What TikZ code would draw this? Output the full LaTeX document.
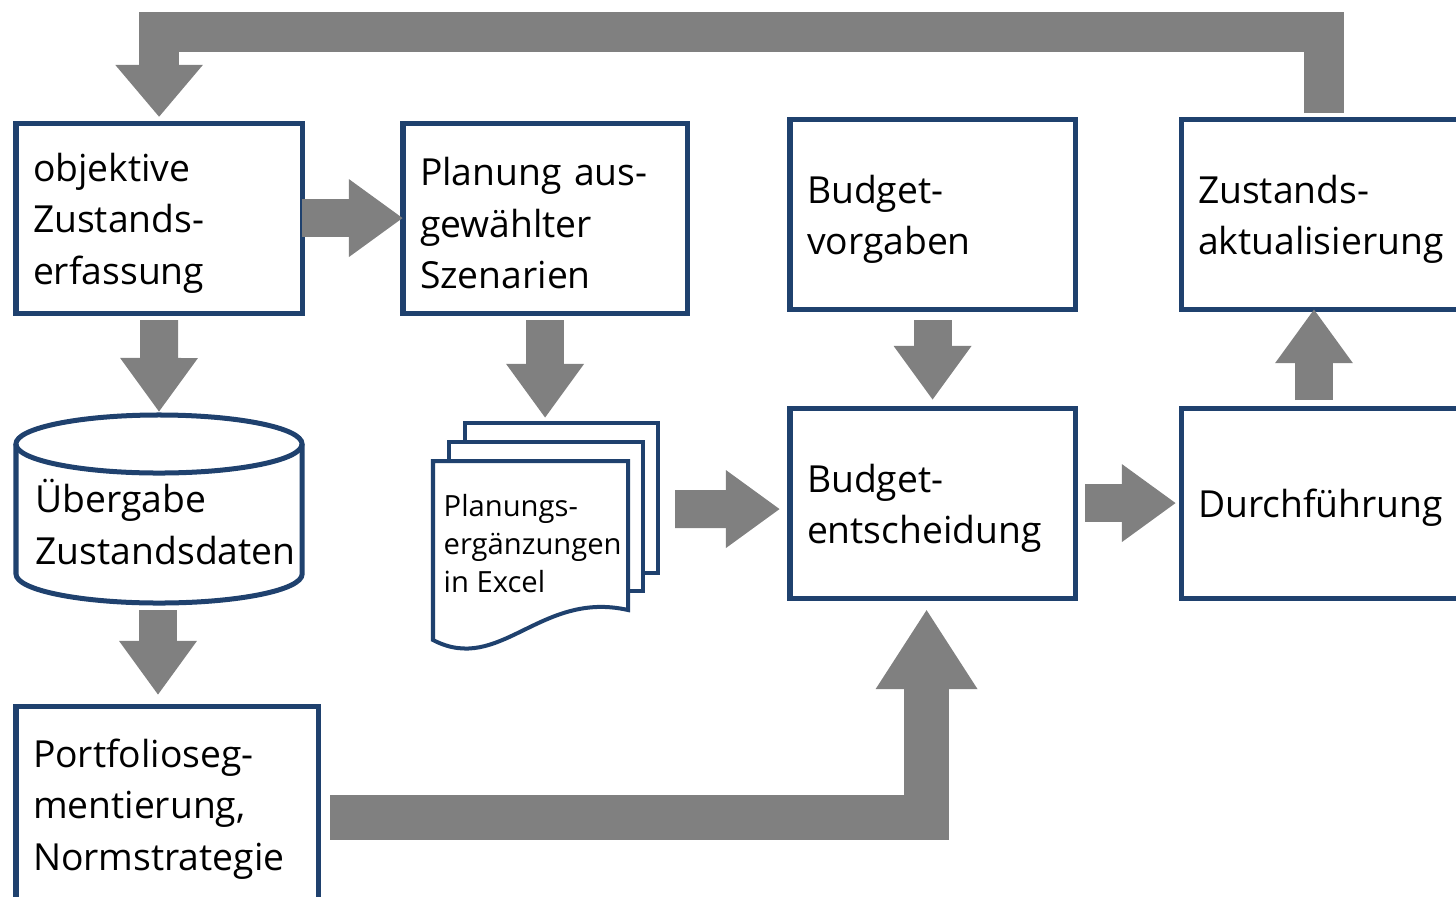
\documentclass[tikz,border=0pt]{standalone}
\usepackage{fontspec}
\setmainfont{Open Sans}
\usetikzlibrary{positioning}
\usetikzlibrary{arrows.meta}
\usetikzlibrary{calc}

\definecolor{boxblue}{RGB}{31,65,110}
\definecolor{arrowgray}{RGB}{128,128,128}
\newcommand{\boxfont}{\fontsize{10.6}{14.6}\selectfont}
\newcommand{\docfont}{\fontsize{8.3}{10.8}\selectfont}

\tikzset{
	box/.style={draw=boxblue, line width=0.05cm, fill=white, anchor=north west, align=left, inner xsep=0.17cm, inner ysep=0pt, outer sep=0pt, font=\boxfont, execute at begin node={\rule{0pt}{10.9pt}}},
	page/.style={draw=boxblue, line width=0.04cm, fill=white, anchor=north west, inner sep=0pt, outer sep=0pt},
	grayarrow/.style={draw=arrowgray, line width=0.38cm, -{Triangle[width=0.74cm,length=0.54cm]}},
	bigarrow/.style={draw=arrowgray, line width=0.45cm, -{Triangle[width=0.96cm,length=0.80cm]}},
	toparrow/.style={draw=arrowgray, line width=0.40cm, -{Triangle[width=0.84cm,length=0.52cm]}}
}

\begin{document}
\begin{tikzpicture}[x=0.01cm, y=-0.01cm]
			% Fix the size of the picture
			\useasboundingbox (0,0) rectangle (1456,896);
			\clip (0,0) rectangle (1456,896);

			% The boxes
			\node[box, text width=2.52cm, minimum height=1.90cm] (obj) at (16,123) {objektive\\Zustands-\\erfassung};
			\node[box, text width=2.50cm, minimum height=1.90cm] (plan) at (403,123) {Planung aus-\\gewählter\\Szenarien};
			\node[box, text width=2.51cm, minimum height=1.90cm] (vorg) at (790,119) {Budget-\\vorgaben};
			\node[box, text width=2.75cm, minimum height=1.90cm] (aktu) at (1181,119) {Zustands-\\aktualisierung};
			\node[box, text width=2.51cm, minimum height=1.90cm] (entsch) at (790,408) {Budget-\\entscheidung};
			\node[box, text width=2.75cm, minimum height=1.90cm] (durch) at (1181,408) {Durchführung};
			\node[box, text width=2.68cm, minimum height=1.96cm] (port) at (16,706) {Portfolioseg-\\mentierung,\\Normstrategie};

			% The data store
			\draw[boxblue, line width=0.05cm, fill=white] (16,444) -- (16,574) arc[start angle=180, end angle=360, x radius=1.43cm, y radius=0.29cm] -- (302,444);
			\draw[boxblue, line width=0.05cm] (159,444) ellipse[x radius=1.43cm, y radius=0.29cm];
			\node[font=\boxfont, align=left, anchor=west, inner sep=0pt] (cyl) at (35,522) {Übergabe\\Zustandsdaten};
			\coordinate (cyltop) at (159,412);
			\coordinate (cylbot) at (158,610);

			% The stack of sheets
			\node[page, minimum width=1.93cm, minimum height=1.50cm] (page3) at (465,423) {};
			\node[page, minimum width=1.94cm, minimum height=1.49cm] (page2) at (449,442) {};
			\draw[boxblue, line width=0.04cm, fill=white] (433,640) -- (433,461) -- (628,461) -- (628,610) .. controls (540,590) and (500,675) .. (433,640) -- cycle;
			\node[font=\docfont, align=left, anchor=west, inner sep=0pt] (docs) at (443,544) {Planungs-\\ergänzungen\\in Excel};

			% The arrows
			\draw[grayarrow] (obj.east) -- (plan.west);
			\draw[grayarrow, shorten <=0.07cm] (obj.south) -- (cyltop);
			\draw[grayarrow, shorten >=0.11cm] (cylbot) -- (cylbot |- port.north);
			\draw[grayarrow, shorten <=0.07cm, shorten >=0.05cm] (plan.south) -- (plan.south |- page3.north);
			\draw[grayarrow] ($(page3.east)+(17,11)$) -- ($(entsch.west)+(-10,6)$);
			\draw[grayarrow, shorten <=0.11cm, shorten >=0.08cm] (vorg.south) -- (entsch.north);
			\draw[grayarrow, shorten <=0.10cm, shorten >=0.05cm] (entsch.east) -- (durch.west);
			\draw[grayarrow, shorten <=0.08cm] ($(durch.north west)+(133,0)$) -- ($(aktu.south west)+(133,0)$);
			\draw[bigarrow] ($(port.east)+(12,13)$) -| ($(entsch.south)+(-6,11)$);
			\draw[toparrow, shorten <=0.06cm, shorten >=0.06cm] ($(aktu.north west)+(143,0)$) -- ++(0,-87) -| (obj.north);
\end{tikzpicture}
\end{document}
